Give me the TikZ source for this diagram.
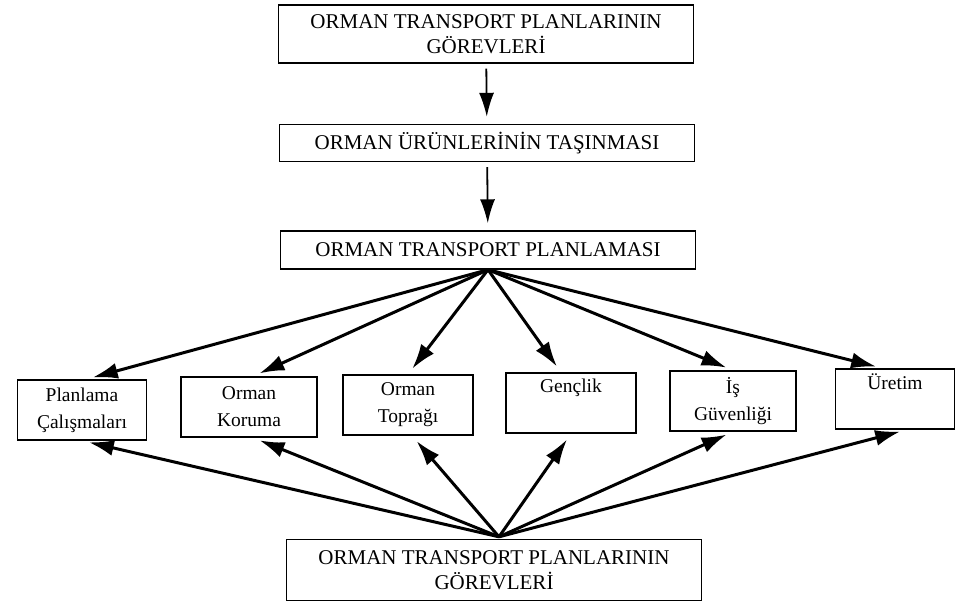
\documentclass[tikz,border=0pt]{standalone}
\usepackage{fontspec}
\setmainfont{Liberation Serif}
\usetikzlibrary{arrows.meta}
\usetikzlibrary{calc}
\tikzset{>={Latex[length=25pt,width=16pt]}}
\tikzset{kutu/.style={draw, line width=1.4pt, inner sep=0pt, align=center, font=\fontsize{21}{25}\selectfont}}
\tikzset{genis/.style={kutu, minimum width=415pt}}
\tikzset{konu/.style={kutu, minimum width=129pt, minimum height=60pt, font=\fontsize{19.5}{27}\selectfont}}
\tikzset{ok/.style={->, line width=3pt, shorten >=7pt}}
\tikzset{dik/.style={-{Latex[length=24pt,width=15pt]}, line width=1.8pt, shorten <=5pt, shorten >=7pt}}

\begin{document}
\begin{tikzpicture}[x=1pt,y=-1pt]
\useasboundingbox (0,0) rectangle (957,606);
\node[genis, minimum height=58pt] (gorev) at (486,34) {ORMAN TRANSPORT PLANLARININ\\GÖREVLERİ};
\node[genis, minimum height=37pt] (tasima) at (487,143) {ORMAN ÜRÜNLERİNİN TAŞINMASI};
\node[genis, minimum height=38pt] (plan) at (488,250) {ORMAN TRANSPORT PLANLAMASI};
\node[genis, minimum height=61pt] (gorevalt) at (494,570) {ORMAN TRANSPORT PLANLARININ\\GÖREVLERİ};

\node[konu] (calisma) at (82,410) {Planlama\\Çalışmaları};
\node[konu, minimum width=136pt] (koruma) at (249,407) {Orman\\Koruma};
\node[konu, minimum width=130pt] (toprak) at (408,405) {Orman\\Toprağı};
\node[konu, minimum width=130pt] (genclik) at (571,403) {Gençlik\\\strut};
\node[konu, minimum width=126pt] (guvenlik) at (733,401) {İş\\Güvenliği};
\node[konu, minimum width=119pt] (uretim) at (895,399) {Üretim\\\strut};

\coordinate (alttepe) at ($(gorevalt.north)+(5,-2)$);

\draw[dik] (gorev) -- (tasima);
\draw[dik] (tasima) -- (plan);

\draw[ok] (plan.south) -- ([xshift=4pt]calisma.north);
\draw[ok] (plan.south) -- ([xshift=4pt]koruma.north);
\draw[ok] (plan.south) -- (toprak.north);
\draw[ok] (plan.south) -- ([xshift=-10pt]genclik.north);
\draw[ok] (plan.south) -- (guvenlik.north);
\draw[ok] (plan.south) -- ([xshift=-12pt]uretim.north);

\draw[ok] (alttepe) -- (calisma.south);
\draw[ok] (alttepe) -- ([xshift=4pt]koruma.south);
\draw[ok] (alttepe) -- ([xshift=4pt]toprak.south);
\draw[ok] (alttepe) -- (genclik.south);
\draw[ok] (alttepe) -- (guvenlik.south);
\draw[ok] (alttepe) -- ([xshift=12pt]uretim.south);
\end{tikzpicture}
\end{document}
